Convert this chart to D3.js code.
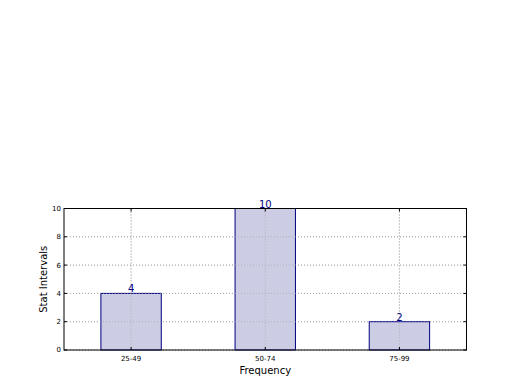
<!DOCTYPE html>
<html><head><meta charset="utf-8">
<script src="https://cdn.jsdelivr.net/npm/d3@7"></script>
<style>body{margin:0;background:#fff}svg{display:block}</style>
</head><body>
<svg id="c" width="520" height="390"></svg>
<script>
const categories = ["25-49", "50-74", "75-99"];
const values = [4, 10, 2];
const yTicks = [0, 2, 4, 6, 8, 10];

const svg = d3.select("#c");
const L = 64, R = 466.5, T = 208.5, B = 350;
const x = d3.scaleLinear().domain([-0.5, 2.5]).range([L, R]);
const y = d3.scaleLinear().domain([0, 10]).range([B, T]);
const font = "DejaVu Sans, sans-serif";

// grid
const g = svg.append("g");
yTicks.forEach(t => {
  g.append("line").attr("x1", L).attr("x2", R).attr("y1", y(t)).attr("y2", y(t))
   .attr("stroke", "#b0b0b0").attr("stroke-width", 1).attr("stroke-dasharray", "1,2");
});
categories.forEach((c, i) => {
  g.append("line").attr("x1", x(i)).attr("x2", x(i)).attr("y1", T).attr("y2", B)
   .attr("stroke", "#b0b0b0").attr("stroke-width", 1).attr("stroke-dasharray", "1,2");
});

// bars
const w = 0.45;
svg.append("g").selectAll("rect").data(values).join("rect")
  .attr("x", (d, i) => x(i - w / 2)).attr("width", x(w) - x(0))
  .attr("y", d => y(d)).attr("height", d => B - y(d))
  .attr("fill", "#cccce4").attr("stroke", "#000080").attr("stroke-width", 1);

// re-draw grid over bars (matplotlib grid drawn above)
yTicks.forEach(t => {
  svg.append("line").attr("x1", L).attr("x2", R).attr("y1", y(t)).attr("y2", y(t))
   .attr("stroke", "#a0a0a0").attr("stroke-width", 1).attr("stroke-dasharray", "1,2").attr("opacity", 0.6);
});
categories.forEach((c, i) => {
  svg.append("line").attr("x1", x(i)).attr("x2", x(i)).attr("y1", T).attr("y2", B)
   .attr("stroke", "#a0a0a0").attr("stroke-width", 1).attr("stroke-dasharray", "1,2").attr("opacity", 0.6);
});

// bar labels
svg.append("g").selectAll("text").data(values).join("text")
  .attr("x", (d, i) => x(i)).attr("y", d => y(d) - 1)
  .attr("text-anchor", "middle").attr("font-family", font).attr("font-size", 10)
  .attr("fill", "#000080").text(d => d);

// frame
svg.append("rect").attr("x", L).attr("y", T).attr("width", R - L).attr("height", B - T)
  .attr("fill", "none").attr("stroke", "#000").attr("stroke-width", 1);

// ticks
yTicks.forEach(t => {
  svg.append("line").attr("x1", L).attr("x2", L + 3).attr("y1", y(t)).attr("y2", y(t)).attr("stroke", "#000");
  svg.append("line").attr("x1", R - 3).attr("x2", R).attr("y1", y(t)).attr("y2", y(t)).attr("stroke", "#000");
  svg.append("text").attr("x", L - 3).attr("y", y(t)).attr("dy", "0.35em")
    .attr("text-anchor", "end").attr("font-family", font).attr("font-size", 7).text(t);
});
categories.forEach((c, i) => {
  svg.append("line").attr("x1", x(i)).attr("x2", x(i)).attr("y1", B).attr("y2", B - 3).attr("stroke", "#000");
  svg.append("line").attr("x1", x(i)).attr("x2", x(i)).attr("y1", T).attr("y2", T + 3).attr("stroke", "#000");
  svg.append("text").attr("x", x(i)).attr("y", B + 11)
    .attr("text-anchor", "middle").attr("font-family", font).attr("font-size", 7).text(c);
});

// axis labels
svg.append("text").attr("x", (L + R) / 2).attr("y", 374).attr("text-anchor", "middle")
  .attr("font-family", font).attr("font-size", 10).text("Frequency");
svg.append("text").attr("transform", `translate(47,${(T + B) / 2}) rotate(-90)`).attr("text-anchor", "middle")
  .attr("font-family", font).attr("font-size", 10).text("Stat Intervals");
</script>
</body></html>
